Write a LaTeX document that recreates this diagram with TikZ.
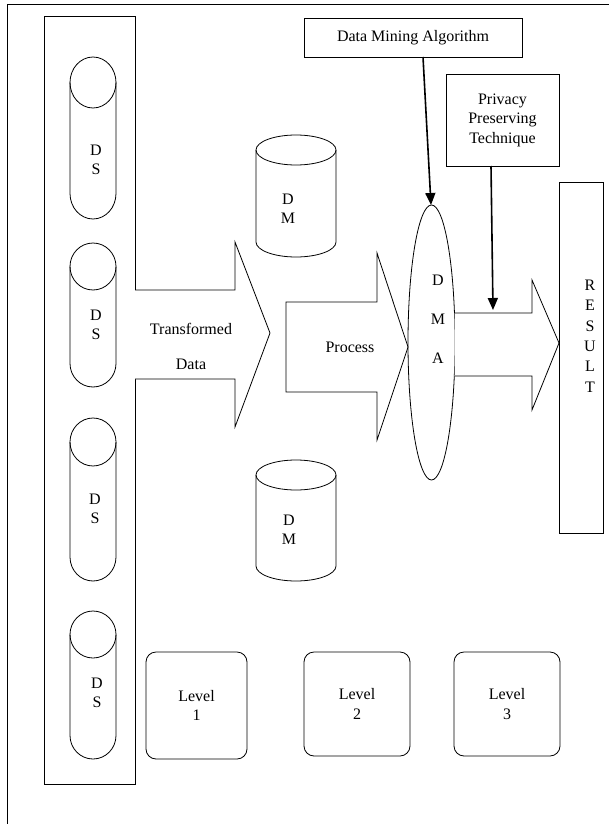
\documentclass[tikz,border=0pt]{standalone}
\usepackage{fontspec}
\setmainfont{Liberation Serif}
\usetikzlibrary{arrows.meta}
\newcommand\DrawCyl[5]{% cx, top, bottom, rx, ry (pixel units, y downward)
  \draw[fill=white] (#1-#4,-#2-#5) -- (#1-#4,-#3+#5)
     arc[start angle=180,end angle=360,x radius=#4,y radius=#5]
     -- (#1+#4,-#2-#5);
  \draw (#1,-#2-#5) ellipse [x radius=#4, y radius=#5];
}
\begin{document}
\begin{tikzpicture}[x=1pt,y=1pt,line width=0.8pt,
  txt/.style={font=\fontsize{16}{19.5}\selectfont, align=center, inner sep=0pt},
  ptr/.style={line width=1.6pt, -{Triangle[length=12pt,width=10pt]}},
  levelbox/.style={draw, rounded corners=10pt},
  plainbox/.style={draw},
  bigarrow/.style={draw, fill=white, line join=miter},
]
\useasboundingbox (0,0) rectangle (609,-824);
% outer frame (only top and left visible)
\draw (7,-824) -- (7,-4) -- (609,-4);
% left column rectangle
\draw (44,-16) rectangle (135,-784);
% DS cylinders
\DrawCyl{93}{57}{219}{23}{25.5}
\DrawCyl{93}{243}{387}{23}{23.5}
\DrawCyl{93}{418}{581}{23}{24}
\DrawCyl{93}{611}{759}{23}{23.5}
\node[txt] (ds1) at (96,-160) {D\\S};
\node[txt] (ds2) at (96,-325) {D\\S};
\node[txt] (ds3) at (95,-509) {D\\S};
\node[txt] (ds4) at (97,-693) {D\\S};
% DM cylinders
\DrawCyl{296}{135}{257}{40}{15}
\DrawCyl{296}{460}{581}{40}{15}
\node[txt] (dm1) at (288,-209) {D\\M};
\node[txt] (dm2) at (289,-530) {D\\M};
% Transformed Data arrow
\draw[bigarrow] (135,-290) -- (235,-290) -- (235,-242) -- (270,-333) -- (235,-427) -- (235,-379) -- (135,-379);
\node[txt, font=\fontsize{16}{35}\selectfont] (td) at (191,-346) {Transformed\\Data};
% Process arrow
\draw[bigarrow] (286,-302) -- (377,-302) -- (377,-253) -- (408,-347) -- (377,-440) -- (377,-392) -- (286,-392) -- cycle;
\node[txt] (proc) at (350,-347) {Process};
% DMA ellipse
\draw (431.5,-342.5) ellipse [x radius=23.5, y radius=137.5];
\coordinate (dmatop) at (431,-205);
\node[txt, font=\fontsize{16}{39}\selectfont] (dma) at (438,-319) {D\\M\\A};
% Result arrow
\draw[bigarrow] (454.5,-313) -- (532,-313) -- (532,-280) -- (559,-343) -- (532,-410) -- (532,-376) -- (454.5,-376);
\coordinate (pptip) at (493,-310);
% RESULT box
\node[plainbox, minimum width=44pt, minimum height=351pt, inner sep=0pt] (resbox) at (581,-357.5) {};
\node[txt, font=\fontsize{16}{20.4}\selectfont] (res) at (590,-336) {R\\E\\S\\U\\L\\T};
% top boxes
\node[plainbox, minimum width=218pt, minimum height=39pt, inner sep=0pt, txt, draw] (dmalg) at (413,-37.5) {Data Mining Algorithm};
\node[plainbox, minimum width=113pt, minimum height=92pt, txt, draw] (ppt) at (502.5,-120) {Privacy\\Preserving\\Technique};
\draw[ptr] (423,-57) -- (dmatop);
\draw[ptr] (491,-166) -- (pptip);
% Level boxes
\node[levelbox, txt, draw, minimum width=101pt, minimum height=107pt] (l1) at (196.5,-705.5) {Level\\1};
\node[levelbox, txt, draw, minimum width=106pt, minimum height=104pt] (l2) at (357,-704) {Level\\2};
\node[levelbox, txt, draw, minimum width=106pt, minimum height=104pt] (l3) at (507,-704) {Level\\3};
\end{tikzpicture}
\end{document}
